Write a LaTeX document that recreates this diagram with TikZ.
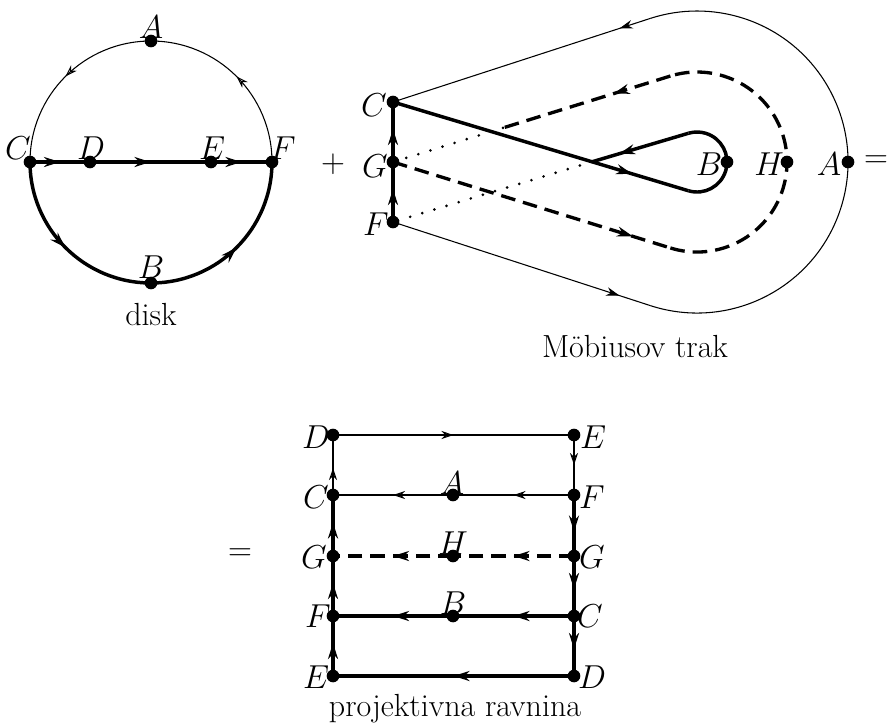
\documentclass[tikz,border=0pt]{standalone}
\usetikzlibrary{arrows.meta,decorations.markings}
\begin{document}
\begin{tikzpicture}[x=0.75pt,y=-0.75pt,
  thinln/.style={line width=0.8pt},
  thickln/.style={line width=2.6pt},
  dashln/.style={line width=2.5pt, dash pattern=on 11pt off 6pt},
  dotln/.style={line width=2.2pt, line cap=round, dash pattern=on 0pt off 9.5pt},
  dot/.style={circle, fill=black, inner sep=0pt, minimum size=9.5pt},
  lab/.style={font=\fontsize{23}{27}\selectfont, inner sep=0pt},
  txt/.style={font=\fontsize{24}{29}\selectfont, inner sep=0pt, anchor=base},
  ar/.style={postaction={decorate,decoration={markings,mark=at position #1 with {\arrow{Stealth[length=12pt,width=7.5pt]}}}}},
  arm/.style={postaction={decorate,decoration={markings,mark=at position #1 with {\arrow{Stealth[length=10pt,width=6.5pt]}}}}},
  art/.style={postaction={decorate,decoration={markings,mark=at position #1 with {\arrow{Stealth[length=9pt,width=6pt,open]}}}}}
]
\path[use as bounding box] (0,0) rectangle (887,722);

% ---------------- disk ----------------
\node[dot] (dA) at (151,41) {};
\node[dot] (dB) at (151,283) {};
\node[dot] (dC) at (30,162) {};
\node[dot] (dF) at (272,162) {};
\node[dot] (dD) at (90,162) {};
\node[dot] (dE) at (211,162) {};
\draw[thinln, art=0.5] (dF.center) arc[start angle=0, end angle=90, radius=90.75pt];
\draw[thinln, art=0.5] (dA.center) arc[start angle=90, end angle=180, radius=90.75pt];
\draw[thickln, ar=0.5] (dC.center) arc[start angle=180, end angle=270, radius=90.75pt];
\draw[thickln, ar=0.5] (dB.center) arc[start angle=270, end angle=360, radius=90.75pt];
\draw[thickln, ar=0.5] (dC.center) -- (dD.center);
\draw[thickln, ar=0.5] (dD.center) -- (dE.center);
\draw[thickln, ar=0.5] (dE.center) -- (dF.center);
\node[lab] (ldA) at (151,27) {$A$};
\node[lab] (ldC) at (18,148) {$C$};
\node[lab] (ldD) at (91,148) {$D$};
\node[lab] (ldE) at (212,148) {$E$};
\node[lab] (ldF) at (283,148) {$F$};
\node[lab] (ldB) at (151,267) {$B$};
\node[txt] (tdisk) at (151,325) {disk};

\node[lab] (plus) at (333,164) {$+$};

% ---------------- Moebius ----------------
\node[dot] (mC) at (393,102) {};
\node[dot] (mG) at (393,162) {};
\node[dot] (mF) at (393,222) {};
\node[dot] (mB) at (727,162) {};
\node[dot] (mH) at (787,162) {};
\node[dot] (mA) at (848,162) {};
\coordinate (T1) at (650.34,18.39);
\coordinate (T2) at (650.34,305.61);
\coordinate (T3) at (688.37,190.73);
\coordinate (T4) at (688.48,133.24);
\coordinate (T5) at (670.36,247.97);
\coordinate (T6) at (670.36,76.03);
\coordinate (P) at (592,161.8);
\coordinate (Q) at (503,127.9);

\draw[thinln, arm=0.88] (mF.center) -- (T2);
\draw[thinln] (T2) arc[start angle=-108, end angle=108, radius=113.25pt];
\draw[thinln, arm=0.12] (T1) -- (mC.center);

\draw[dotln] (P) -- (mF.center);
\draw[dotln] (Q) -- (mG.center);

\draw[thickln, ar=0.81] (mC.center) -- (T3);
\draw[thickln] (T3) arc[start angle=-106.72, end angle=106.5, radius=22.5pt];
\draw[thickln, ar=0.72] (T4) -- (P);

\draw[dashln, ar=0.865] (mG.center) -- (T5);
\draw[dashln] (T5) arc[start angle=-107.22, end angle=107.22, radius=67.5pt];
\draw[dashln, ar=0.34] (T6) -- (Q);

\draw[thickln, ar=0.55] (mF.center) -- (mG.center);
\draw[thickln, ar=0.55] (mG.center) -- (mC.center);

\node[lab] (lmC) at (374,105) {$C$};
\node[lab] (lmG) at (375,166) {$G$};
\node[lab] (lmF) at (376,224) {$F$};
\node[lab] (lmB) at (709,164) {$B$};
\node[lab] (lmH) at (769,164) {$H$};
\node[lab] (lmA) at (829,164) {$A$};
\node[lab] (eq1) at (876,162) {$=$};
\node[txt] (tmob) at (635,357) {Möbiusov trak};

% ---------------- projective plane ----------------
\node[lab] (eq2) at (240,555) {$=$};
\node[dot] (r1L) at (333,435) {};
\node[dot] (r1R) at (574,435) {};
\node[dot] (r2L) at (333,495) {};
\node[dot] (r2M) at (453,495) {};
\node[dot] (r2R) at (574,495) {};
\node[dot] (r3L) at (333,556) {};
\node[dot] (r3M) at (453,556) {};
\node[dot] (r3R) at (574,556) {};
\node[dot] (r4L) at (333,616) {};
\node[dot] (r4M) at (453,616) {};
\node[dot] (r4R) at (574,616) {};
\node[dot] (r5L) at (333,676) {};
\node[dot] (r5R) at (574,676) {};

\draw[thinln, art=0.5] (r1L.center) -- (r1R.center);
\draw[thinln, art=0.5] (r1R.center) -- (r2R.center);
\draw[thinln, art=0.45] (r2L.center) -- (r1L.center);
\draw[thinln, art=0.5] (r2R.center) -- (r2M.center);
\draw[thinln, art=0.5] (r2M.center) -- (r2L.center);
\draw[dashln, ar=0.5] (r3R.center) -- (r3M.center);
\draw[dashln, ar=0.5] (r3M.center) -- (r3L.center);
\draw[thickln, ar=0.5] (r4R.center) -- (r4M.center);
\draw[thickln, ar=0.5] (r4M.center) -- (r4L.center);
\draw[thickln, ar=0.5] (r5R.center) -- (r5L.center);
\draw[thickln, ar=0.55] (r5L.center) -- (r4L.center);
\draw[thickln, ar=0.55] (r4L.center) -- (r3L.center);
\draw[thickln, ar=0.55] (r3L.center) -- (r2L.center);
\draw[thickln, ar=0.6] (r2R.center) -- (r3R.center);
\draw[thickln, ar=0.55] (r3R.center) -- (r4R.center);
\draw[thickln, ar=0.55] (r4R.center) -- (r5R.center);

\node[lab] (lr1L) at (316,437) {$D$};
\node[lab] (lr1R) at (593,437) {$E$};
\node[lab] (lr2L) at (316,497) {$C$};
\node[lab] (lr2M) at (452,483) {$A$};
\node[lab] (lr2R) at (592,497) {$F$};
\node[lab] (lr3L) at (314,557) {$G$};
\node[lab] (lr3M) at (453,543) {$H$};
\node[lab] (lr3R) at (592,557) {$G$};
\node[lab] (lr4L) at (318,616) {$F$};
\node[lab] (lr4M) at (453,603) {$B$};
\node[lab] (lr4R) at (590,616) {$C$};
\node[lab] (lr5L) at (316,677) {$E$};
\node[lab] (lr5R) at (592,677) {$D$};
\node[txt] (tproj) at (455,716) {projektivna ravnina};
\end{tikzpicture}
\end{document}
